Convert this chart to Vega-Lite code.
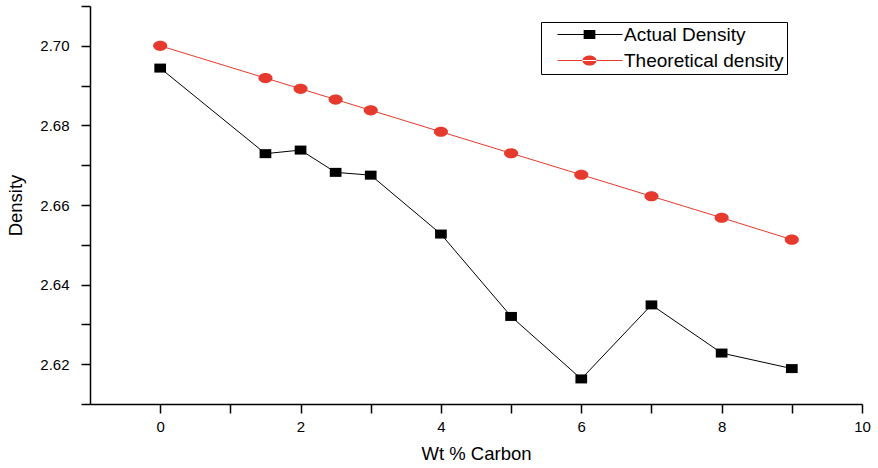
{
  "$schema": "https://vega.github.io/schema/vega-lite/v6.json",
  "width": 772,
  "height": 398,
  "autosize": {"type": "none"},
  "padding": {"left": 90, "top": 6, "right": 16, "bottom": 64},
  "background": "white",
  "config": {
    "view": {"stroke": null},
    "axis": {
      "grid": false,
      "domainColor": "black",
      "domainWidth": 1.5,
      "tickColor": "black",
      "tickWidth": 1.5,
      "tickSize": 9,
      "labelFont": "Liberation Sans",
      "labelFontSize": 15,
      "labelColor": "black",
      "titleFont": "Liberation Sans",
      "titleFontSize": 18.5,
      "titleFontWeight": "normal",
      "titleColor": "black"
    }
  },
  "data": {
    "values": [
      {"x": 0, "density": 2.6944, "series": "Actual Density"},
      {"x": 1.5, "density": 2.6729, "series": "Actual Density"},
      {"x": 2, "density": 2.6738, "series": "Actual Density"},
      {"x": 2.5, "density": 2.6682, "series": "Actual Density"},
      {"x": 3, "density": 2.6675, "series": "Actual Density"},
      {"x": 4, "density": 2.6527, "series": "Actual Density"},
      {"x": 5, "density": 2.632, "series": "Actual Density"},
      {"x": 6, "density": 2.6163, "series": "Actual Density"},
      {"x": 7, "density": 2.6349, "series": "Actual Density"},
      {"x": 8, "density": 2.6228, "series": "Actual Density"},
      {"x": 9, "density": 2.6189, "series": "Actual Density"},
      {"x": 0, "density": 2.7, "series": "Theoretical density"},
      {"x": 1.5, "density": 2.6919, "series": "Theoretical density"},
      {"x": 2, "density": 2.6892, "series": "Theoretical density"},
      {"x": 2.5, "density": 2.6865, "series": "Theoretical density"},
      {"x": 3, "density": 2.6838, "series": "Theoretical density"},
      {"x": 4, "density": 2.6784, "series": "Theoretical density"},
      {"x": 5, "density": 2.673, "series": "Theoretical density"},
      {"x": 6, "density": 2.6676, "series": "Theoretical density"},
      {"x": 7, "density": 2.6622, "series": "Theoretical density"},
      {"x": 8, "density": 2.6568, "series": "Theoretical density"},
      {"x": 9, "density": 2.6513, "series": "Theoretical density"}
    ]
  },
  "encoding": {
    "x": {
      "field": "x",
      "type": "quantitative",
      "scale": {"domain": [-1, 10], "nice": false, "zero": false},
      "axis": {
        "title": "Wt % Carbon",
        "values": [0, 1, 2, 3, 4, 5, 6, 7, 8, 9, 10],
        "labelExpr": "datum.value % 2 === 0 ? datum.label : ''",
        "labelFlush": false,
        "labelOverlap": false,
        "labelPadding": 6,
        "titlePadding": 10,
        "encode": {"ticks": {"update": {"y2": {"signal": "datum.value % 2 === 0 ? 9 : 5"}}}}
      }
    },
    "y": {
      "field": "density",
      "type": "quantitative",
      "scale": {"domain": [2.61, 2.71], "nice": false, "zero": false},
      "axis": {
        "title": "Density",
        "values": [2.61, 2.62, 2.63, 2.64, 2.65, 2.66, 2.67, 2.68, 2.69, 2.7, 2.71],
        "labelExpr": "round(datum.value * 100) % 2 === 0 ? format(datum.value, '.2f') : ''",
        "labelOverlap": false,
        "labelPadding": 12,
        "titlePadding": 14,
        "encode": {"ticks": {"update": {"x2": {"signal": "round(datum.value * 100) % 2 === 0 ? -9 : -5"}}}}
      }
    }
  },
  "layer": [
    {
      "mark": {"type": "line", "strokeWidth": 1},
      "encoding": {
        "color": {
          "field": "series",
          "type": "nominal",
          "scale": {"domain": ["Actual Density", "Theoretical density"], "range": ["#000000", "#e53a2d"]}
        }
      }
    },
    {
      "transform": [{"filter": "datum.series === 'Actual Density'"}],
      "mark": {"type": "point", "filled": true, "size": 36, "opacity": 1, "strokeWidth": 0, "shape": "M-1.95,-1.5H1.95V1.5H-1.95Z"},
      "encoding": {
        "color": {"field": "series", "type": "nominal"}
      }
    },
    {
      "transform": [{"filter": "datum.series === 'Theoretical density'"}],
      "mark": {"type": "point", "filled": true, "size": 36, "opacity": 1, "strokeWidth": 0, "shape": "M-2.35,0A2.35,1.7 0 1,0 2.35,0A2.35,1.7 0 1,0 -2.35,0Z"},
      "encoding": {
        "color": {"field": "series", "type": "nominal"}
      }
    },
    {
      "mark": {"type": "point", "filled": true, "size": 36, "opacity": 0, "strokeWidth": 0},
      "encoding": {
        "color": {
          "field": "series",
          "type": "nominal",
          "legend": {
            "title": null,
            "orient": "none",
            "legendX": 451,
            "legendY": 16,
            "padding": 3,
            "strokeColor": "black",
            "fillColor": "white",
            "labelFont": "Liberation Sans",
            "labelFontSize": 19,
            "labelColor": "black",
            "symbolSize": 36,
            "symbolStrokeWidth": 0,
            "symbolOpacity": 1,
            "labelOffset": 61,
            "rowPadding": 6
          }
        },
        "shape": {
          "field": "series",
          "type": "nominal",
          "scale": {"domain": ["Actual Density", "Theoretical density"], "range": ["M1.33,-0.17H23V0.17H1.33Z M10.05,-1.5H13.95V1.5H10.05Z", "M1.33,-0.17H23V0.17H1.33Z M9.65,0A2.35,1.7 0 1,0 14.35,0A2.35,1.7 0 1,0 9.65,0Z"]}
        }
      }
    }
  ]
}
